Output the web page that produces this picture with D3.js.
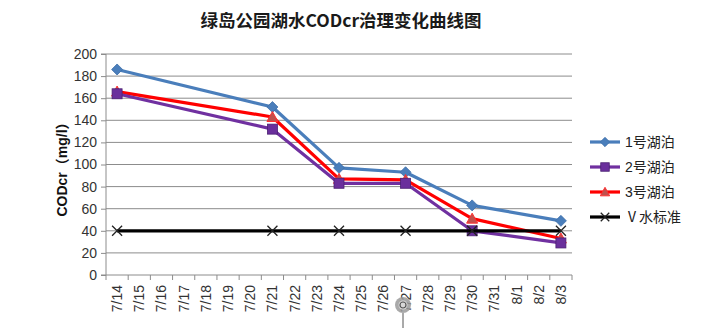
<!DOCTYPE html>
<html>
<head>
<meta charset="utf-8">
<script src="https://cdn.jsdelivr.net/npm/d3@7"></script>
<style>
  html, body { margin: 0; padding: 0; background: #fff; }
  svg { display: block; font-family: "Liberation Sans", Arial, "Noto Sans CJK SC", sans-serif; }
</style>
</head>
<body>
<svg id="chart" width="718" height="332"></svg>
<script>
// Sampling dates (every day on the axis)
const dates = ["7/14","7/15","7/16","7/17","7/18","7/19","7/20","7/21","7/22","7/23","7/24",
               "7/25","7/26","7/27","7/28","7/29","7/30","7/31","8/1","8/2","8/3"];
// Days on which samples were taken
const sampleDates = ["7/14","7/21","7/24","7/27","7/30","8/3"];
// CODcr readings (mg/l)
const lake1 = [186, 152, 97, 93, 63, 49];
const lake2 = [164, 132, 83, 83, 40, 29];
const lake3 = [166, 143, 87, 86, 51, 33];
const standardV = [40, 40, 40, 40, 40, 40];
const yTicks = [0, 20, 40, 60, 80, 100, 120, 140, 160, 180, 200];

const seriesList = [
  { name: "1号湖泊", values: lake1, color: "#4a7ebb", marker: "diamond" },
  { name: "2号湖泊", values: lake2, color: "#7030a0", marker: "square" },
  { name: "3号湖泊", values: lake3, color: "#ff0000", marker: "triangle" },
  { name: "Ⅴ水标准", values: standardV, color: "#000000", marker: "cross" }
];

const svg = d3.select("#chart");
const plotLeft = 106, plotRight = 572, plotTop = 54, plotBottom = 275;

const x = d3.scaleBand().domain(dates).range([plotLeft, plotRight]);
const y = d3.scaleLinear().domain([0, 200]).range([plotBottom, plotTop]);
const cx = d => x(d) + x.bandwidth() / 2;

// Title
svg.append("text")
  .attr("x", 341).attr("y", 27)
  .attr("text-anchor", "middle")
  .attr("font-family", "'Noto Sans CJK SC', sans-serif")
  .attr("font-weight", "bold")
  .attr("font-size", 17.5)
  .attr("fill", "#1a1a1a")
  .text("绿岛公园湖水CODcr治理变化曲线图");

// Horizontal gridlines
svg.append("g")
  .selectAll("line")
  .data(yTicks.filter(t => t > 0))
  .join("line")
  .attr("x1", plotLeft).attr("x2", plotRight)
  .attr("y1", d => y(d)).attr("y2", d => y(d))
  .attr("stroke", "#8c8c8c").attr("stroke-width", 1);

// Y axis
const yAxis = svg.append("g")
  .attr("transform", `translate(${plotLeft},0)`)
  .call(d3.axisLeft(y).tickValues(yTicks).tickSize(5).tickPadding(4));
yAxis.select(".domain").attr("stroke", "#8c8c8c").attr("d", `M-5,${y(0)}H0V${y(200)}H-5`);
yAxis.selectAll(".tick line").attr("stroke", "#8c8c8c");
yAxis.selectAll(".tick text")
  .attr("font-size", 14).attr("fill", "#333")
  .attr("font-family", "'Liberation Sans', Arial, sans-serif");

// X axis: ticks on band boundaries, rotated labels
const xg = svg.append("g").attr("transform", `translate(0,${plotBottom})`);
xg.append("line").attr("x1", plotLeft).attr("x2", plotRight).attr("y1", 0).attr("y2", 0)
  .attr("stroke", "#8c8c8c");
xg.selectAll("line.tk")
  .data(d3.range(dates.length + 1))
  .join("line").attr("class", "tk")
  .attr("x1", i => plotLeft + i * x.bandwidth()).attr("x2", i => plotLeft + i * x.bandwidth())
  .attr("y1", 0).attr("y2", 5)
  .attr("stroke", "#8c8c8c");
xg.selectAll("text")
  .data(dates)
  .join("text")
  .attr("transform", d => `translate(${cx(d) + 5},10) rotate(-90)`)
  .attr("text-anchor", "end")
  .attr("font-size", 14)
  .attr("fill", "#333")
  .text(d => d);

// Y axis title
svg.append("text")
  .attr("transform", "translate(67,166) rotate(-90)")
  .attr("text-anchor", "middle")
  .attr("font-weight", "bold")
  .attr("font-size", 14)
  .attr("fill", "#111")
  .text("CODcr（mg/l）");

// Marker drawing
function drawMarker(g, type, color, size) {
  const s = size || 1;
  if (type === "diamond") {
    g.append("path").attr("d", `M0,${-5.5*s}L${5.5*s},0L0,${5.5*s}L${-5.5*s},0Z`)
      .attr("fill", color).attr("stroke", "#3d6ea8").attr("stroke-width", 0.8);
  } else if (type === "square") {
    g.append("rect").attr("x", -5*s).attr("y", -5*s).attr("width", 10*s).attr("height", 10*s)
      .attr("fill", "#6a2f9c").attr("stroke", "#4b2173").attr("stroke-width", 0.8);
  } else if (type === "triangle") {
    g.append("path").attr("d", `M0,${-5.5*s}L${5.5*s},${4.5*s}L${-5.5*s},${4.5*s}Z`)
      .attr("fill", "#c0504d").attr("stroke", "#ff3030").attr("stroke-width", 1);
  } else if (type === "cross") {
    g.append("path").attr("d", `M${-5*s},${-5*s}L${5*s},${5*s}M${5*s},${-5*s}L${-5*s},${5*s}`)
      .attr("stroke", "#222").attr("stroke-width", 1.3).attr("fill", "none");
  }
}

const line = d3.line().x(d => cx(d.date)).y(d => y(d.v));

// Lines and markers; standard line drawn last so it sits on top
const order = [0, 2, 1, 3];
order.forEach(i => {
  const s = seriesList[i];
  const pts = sampleDates.map((d, j) => ({ date: d, v: s.values[j] }));
  svg.append("path")
    .datum(pts)
    .attr("d", line)
    .attr("fill", "none")
    .attr("stroke", s.color)
    .attr("stroke-width", 3.2)
    .attr("stroke-linejoin", "round");
  pts.forEach(p => {
    const g = svg.append("g").attr("transform", `translate(${cx(p.date)},${y(p.v)})`);
    drawMarker(g, s.marker, s.color);
  });
});

// Legend
const legend = svg.append("g");
const legendY = [142, 167, 192, 217];
seriesList.forEach((s, i) => {
  const g = legend.append("g").attr("transform", `translate(590,${legendY[i]})`);
  g.append("line").attr("x1", 0).attr("x2", 30).attr("stroke", s.color).attr("stroke-width", 3.2);
  const m = g.append("g").attr("transform", "translate(15,0)");
  drawMarker(m, s.marker, s.color, 0.85);
  g.append("text").attr("x", 35).attr("y", 5)
    .attr("font-size", 14).attr("fill", "#222")
    .attr("font-family", "'Liberation Sans', Arial, 'Noto Sans CJK SC', sans-serif")
    .text(s.name);
});

// Round refresh badge over the 7/27 label
const badge = svg.append("g").attr("transform", "translate(403,305)");
badge.append("line").attr("x1", 0).attr("x2", 0).attr("y1", 8).attr("y2", 23)
  .attr("stroke", "#555").attr("stroke-width", 1);
badge.append("circle").attr("r", 8).attr("fill", "#9a9a9a").attr("opacity", 0.85);
badge.append("circle").attr("r", 4.5).attr("fill", "#d8d8d8");
badge.append("circle").attr("r", 3).attr("fill", "none").attr("stroke", "#555").attr("stroke-width", 1.2);
</script>
</body>
</html>
